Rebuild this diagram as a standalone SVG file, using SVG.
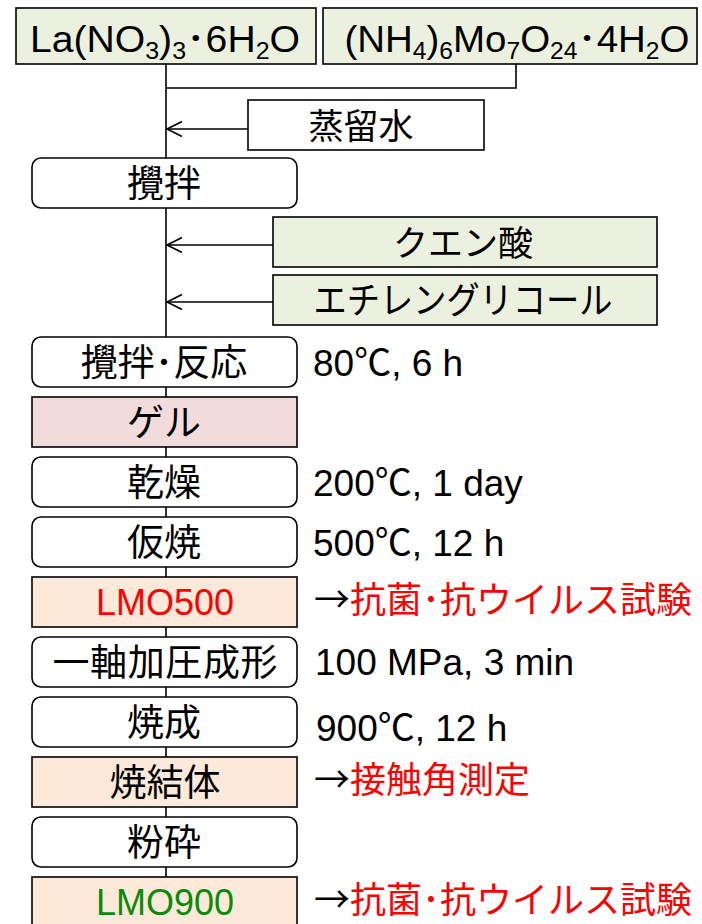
<svg xmlns="http://www.w3.org/2000/svg" width="702" height="924" viewBox="0 0 702 924">
<defs>
<style>
text{font-family:"Liberation Sans","Noto Sans CJK JP",sans-serif;font-size:36px;fill:#000}
.r{font-size:37px}
.j{font-family:"Noto Sans CJK JP",sans-serif;font-size:37px}
.j35{font-family:"Noto Sans CJK JP",sans-serif;font-size:35px}
.rt{font-family:"Noto Sans CJK JP",sans-serif;font-size:36px}
.c{text-anchor:middle}
.sub{font-size:23px}
.box{stroke:#000;stroke-width:1.6}
.w{fill:#fff}
.g{fill:#ebf1de}
.p{fill:#f2dcdb}
.o{fill:#fde9d9}
.red{fill:#ff0000}
.grn{fill:#0a8a0a}
.ln{stroke:#000;stroke-width:1.6;fill:none}
.ar{font-family:"Noto Sans CJK JP",sans-serif}
</style>
<marker id="ah" markerWidth="18" markerHeight="18" refX="15" refY="8" orient="auto" markerUnits="userSpaceOnUse">
<path d="M0,0.5 L15,8 L0,15.5" fill="none" stroke="#000" stroke-width="1.6"/>
</marker>
</defs>
<rect width="702" height="924" fill="#fff"/>
<g id="connectors">
<line class="ln" x1="166" y1="64" x2="166" y2="880"/>
<polyline class="ln" points="516,64 516,88 166,88"/>
<line class="ln" x1="248" y1="129" x2="167" y2="129" marker-end="url(#ah)"/>
<line class="ln" x1="273" y1="245" x2="167" y2="245" marker-end="url(#ah)"/>
<line class="ln" x1="273" y1="302" x2="167" y2="302" marker-end="url(#ah)"/>
</g>
<g id="la">
<rect class="box g" x="16" y="8" width="300" height="56"/>
<text class="c" x="165" y="52" textLength="270" lengthAdjust="spacingAndGlyphs">La(NO<tspan class="sub" dy="7">3</tspan><tspan dy="-7">)</tspan><tspan class="sub" dy="7">3</tspan><tspan dy="-7" class="ar">･</tspan>6H<tspan class="sub" dy="7">2</tspan><tspan dy="-7">O</tspan></text>
</g>
<g id="nh4">
<rect class="box g" x="323" y="8" width="374" height="56"/>
<text class="c" x="517" y="52" textLength="345" lengthAdjust="spacingAndGlyphs">(NH<tspan class="sub" dy="7">4</tspan><tspan dy="-7">)</tspan><tspan class="sub" dy="7">6</tspan><tspan dy="-7">Mo</tspan><tspan class="sub" dy="7">7</tspan><tspan dy="-7">O</tspan><tspan class="sub" dy="7">24</tspan><tspan dy="-7" class="ar">･</tspan>4H<tspan class="sub" dy="7">2</tspan><tspan dy="-7">O</tspan></text>
</g>
<g id="water">
<rect class="box w" x="248" y="100" width="236" height="50"/>
<text class="c j35" x="361" y="139">蒸留水</text>
</g>
<g id="stir1">
<rect class="box w" x="32" y="158" width="265" height="50" rx="9"/>
<text class="c j" x="164" y="197">攪拌</text>
</g>
<g id="citric">
<rect class="box g" x="273" y="217" width="384" height="50"/>
<text class="c j35" x="463" y="256">クエン酸</text>
</g>
<g id="eg">
<rect class="box g" x="273" y="275" width="384" height="50"/>
<text class="c j" x="463" y="314" textLength="299" lengthAdjust="spacingAndGlyphs">エチレングリコール</text>
</g>
<g id="stir2">
<rect class="box w" x="32" y="337" width="265" height="50" rx="9"/>
<text class="c j" x="164" y="376">攪拌･反応</text>
<text class="r" x="313" y="376">80℃, 6 h</text>
</g>
<g id="gel">
<rect class="box p" x="32" y="397" width="265" height="50"/>
<text class="c j" x="164" y="436">ゲル</text>
</g>
<g id="dry">
<rect class="box w" x="32" y="457" width="265" height="50" rx="9"/>
<text class="c j" x="164" y="496">乾燥</text>
<text class="r" x="313" y="496">200℃, 1 day</text>
</g>
<g id="calc">
<rect class="box w" x="32" y="517" width="265" height="50" rx="9"/>
<text class="c j" x="164" y="556">仮焼</text>
<text class="r" x="313" y="556">500℃, 12 h</text>
</g>
<g id="lmo500">
<rect class="box o" x="32" y="577" width="265" height="50"/>
<text class="c red" x="165" y="615">LMO500</text>
<text class="rt" x="314" y="613"><tspan>→</tspan><tspan class="red">抗菌･抗ウイルス試験</tspan></text>
</g>
<g id="press">
<rect class="box w" x="32" y="637" width="265" height="50" rx="9"/>
<text class="c j" x="165" y="676" textLength="225" lengthAdjust="spacing">一軸加圧成形</text>
<text class="r" x="315" y="675">100 MPa, 3 min</text>
</g>
<g id="sinter">
<rect class="box w" x="32" y="697" width="265" height="50" rx="9"/>
<text class="c j" x="164" y="736">焼成</text>
<text class="r" x="316" y="741">900℃, 12 h</text>
</g>
<g id="body">
<rect class="box o" x="32" y="757" width="265" height="50"/>
<text class="c j" x="165" y="796">焼結体</text>
<text class="rt" x="314" y="793"><tspan>→</tspan><tspan class="red">接触角測定</tspan></text>
</g>
<g id="grind">
<rect class="box w" x="32" y="817" width="265" height="50" rx="9"/>
<text class="c j" x="164" y="856">粉砕</text>
</g>
<g id="lmo900">
<rect class="box o" x="32" y="877" width="265" height="52"/>
<text class="c grn" x="165" y="915">LMO900</text>
<text class="rt" x="314" y="913"><tspan>→</tspan><tspan class="red">抗菌･抗ウイルス試験</tspan></text>
</g>
</svg>
